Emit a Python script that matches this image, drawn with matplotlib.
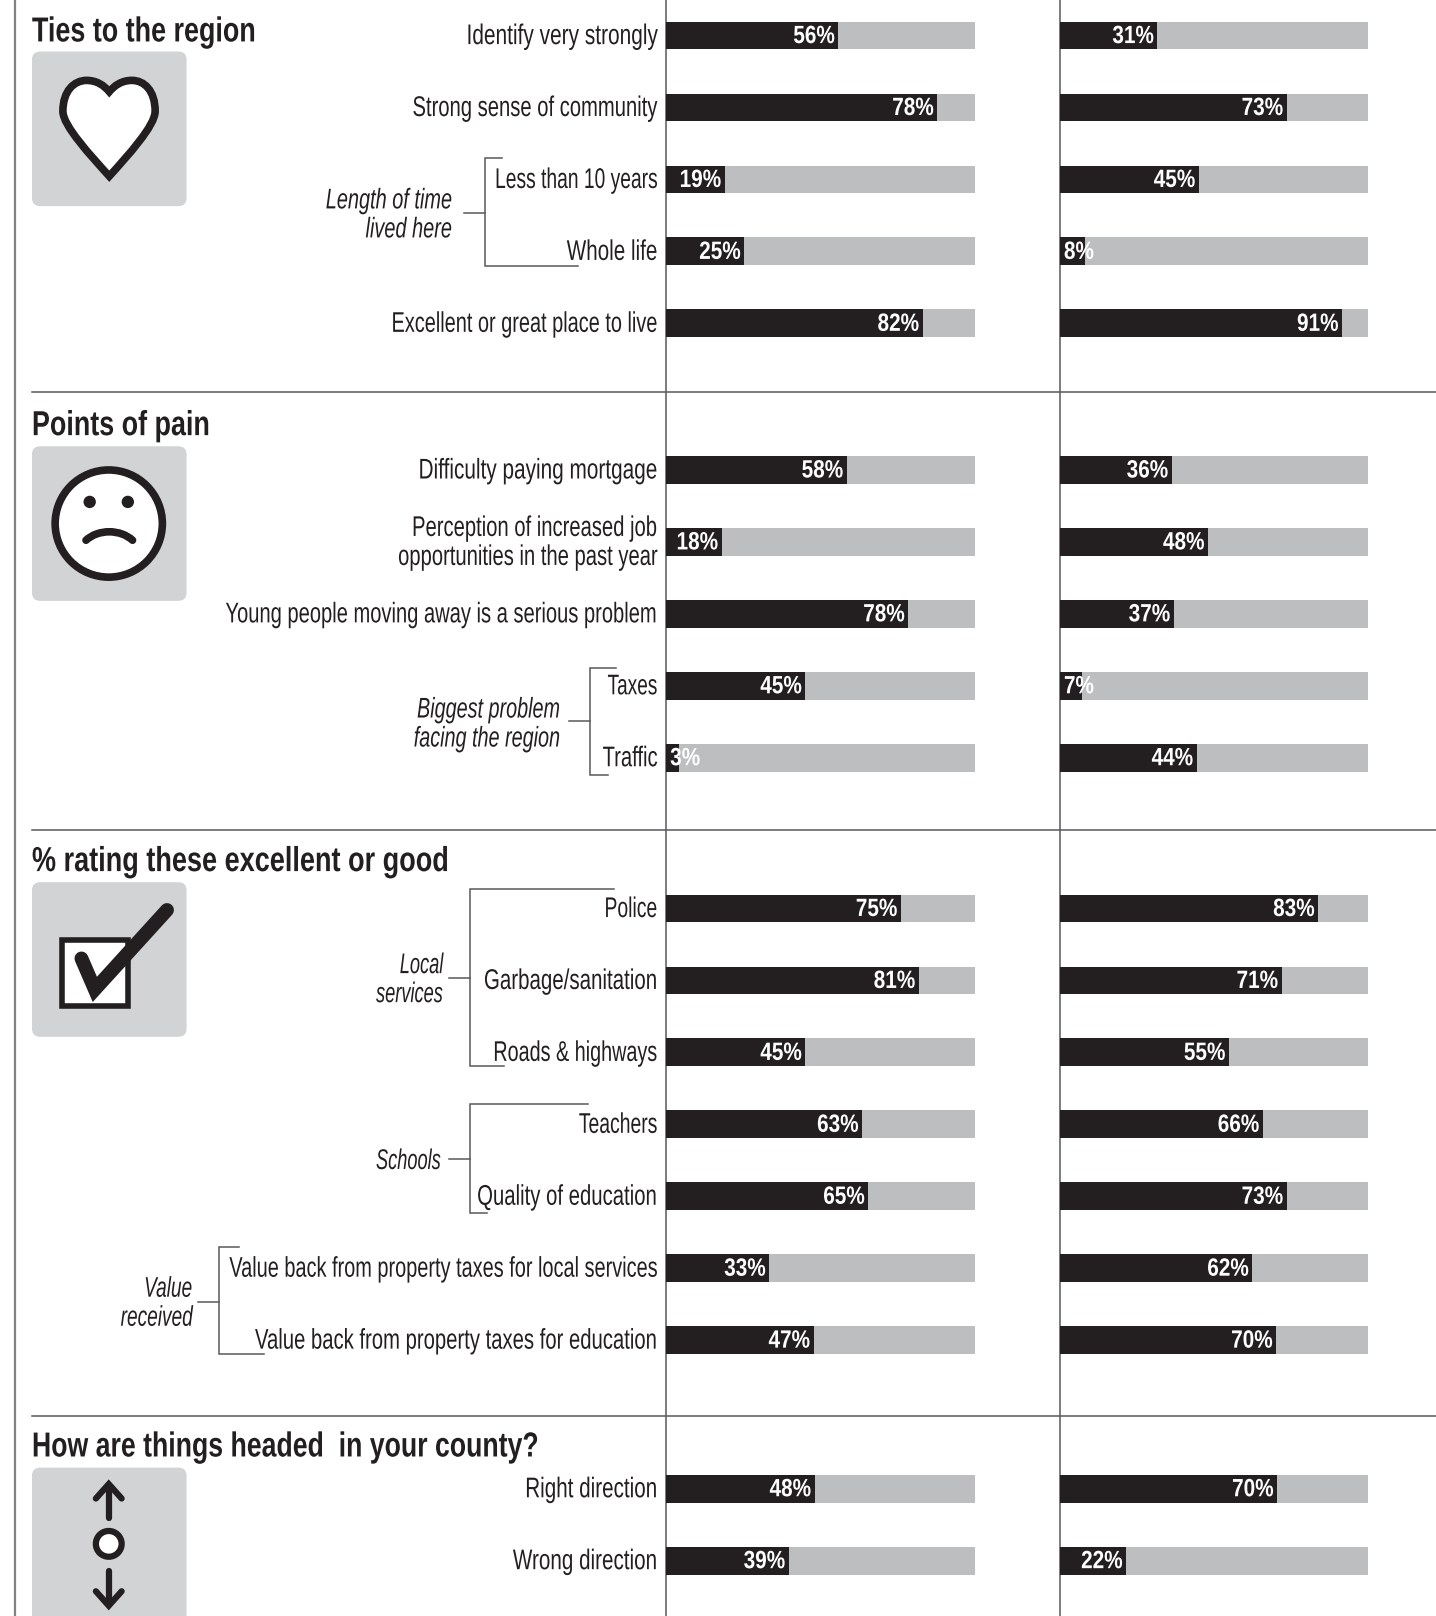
import matplotlib
matplotlib.use('Agg')
import matplotlib.pyplot as plt
from matplotlib.patches import FancyBboxPatch, PathPatch, Circle, Arc, Rectangle
from matplotlib.path import Path
from matplotlib.patheffects import AbstractPathEffect
from matplotlib.transforms import Affine2D

plt.rcParams['font.family'] = ['Liberation Sans', 'DejaVu Sans']

ties_labels = ['Identify very strongly', 'Strong sense of community', 'Less than 10 years', 'Whole life', 'Excellent or great place to live']
ties_left = [56, 78, 19, 25, 82]
ties_right = [31, 73, 45, 8, 91]
# bar lengths as drawn, they don't always agree with the printed number (78% row)
ties_left_bar = [55.7, 87.8, 18.9, 25.2, 83]
ties_right_bar = [31.6, 73.6, 45, 7.9, 91.6]

pain_labels = ['Difficulty paying mortgage', 'Perception of increased job\nopportunities in the past year', 'Young people moving away is a serious problem', 'Taxes', 'Traffic']
pain_left = [58, 18, 78, 45, 3]
pain_right = [36, 48, 37, 7, 44]
pain_left_bar = [58.4, 17.9, 78.4, 45, 4.1]
pain_right_bar = [36.2, 48, 36.9, 7, 44.3]

rating_labels = ['Police', 'Garbage/sanitation', 'Roads & highways', 'Teachers', 'Quality of education', 'Value back from property taxes for local services', 'Value back from property taxes for education']
rating_left = [75, 81, 45, 63, 65, 33, 47]
rating_right = [83, 71, 55, 66, 73, 62, 70]
rating_left_bar = [76, 81.8, 45, 63.4, 65.4, 33.3, 47.7]
rating_right_bar = [83.8, 72, 54.8, 65.8, 73.6, 62.4, 70.2]

county_labels = ['Right direction', 'Wrong direction']
county_left = [48, 39]
county_right = [70, 22]
county_left_bar = [48, 39.6]
county_right_bar = [70.5, 21.4]

titles = ['Ties to the region', 'Points of pain', '% rating these excellent or good', 'How are things headed  in your county?']

title_y = [31, 413, 836, 1404]
title_fit = [0.775, 0.775, 0.78, 0.768]
section_y = [34.5, 456, 881.5, 1444.5]
row_gap = 69.8
rule_y = [380.5, 805.5, 1373.5]
icon_y = [50, 433, 856, 1424]
label_fit = [[0.733, 0.71, 0.676, 0.725, 0.70],
             [0.73, 0.71, 0.707, 0.67, 0.71],
             [0.68, 0.72, 0.695, 0.68, 0.714, 0.70, 0.712],
             [0.725, 0.725]]

DARK = '#231f20'
GREY = '#bcbec0'
ICON = '#d1d3d4'
LINE = '#58595b'


# no condensed font installed, so squeeze the glyphs sideways when drawn
class Squeeze(AbstractPathEffect):
    def __init__(self, sx, right=False):
        super().__init__()
        self.sx = sx
        self.right = right

    def draw_path(self, renderer, gc, tpath, affine, rgbFace=None):
        x0 = 0
        if self.right and len(tpath.vertices):
            x0 = tpath.vertices[:, 0].max()
        t = Affine2D().translate(-x0, 0).scale(self.sx, 1).translate(x0, 0)
        renderer.draw_path(gc, tpath, t + affine, rgbFace)


W, H = 1393.0, 1568.0
fig = plt.figure(figsize=(14.36, 16.16), dpi=100, facecolor='white')
ov = fig.add_axes([0, 0, 1, 1], zorder=1)
ov.set_xlim(0, W)
ov.set_ylim(H, 0)
ov.axis('off')

col_l = fig.add_axes([646.5 / W, 0, 299.3 / W, 1], zorder=2)
col_r = fig.add_axes([1028.5 / W, 0, 298.5 / W, 1], zorder=2)
for a in (col_l, col_r):
    a.set_xlim(0, 100)
    a.set_ylim(H, 0)
    a.axis('off')
    a.patch.set_alpha(0)

sections = [(ties_labels, ties_left, ties_left_bar, ties_right, ties_right_bar),
            (pain_labels, pain_left, pain_left_bar, pain_right, pain_right_bar),
            (rating_labels, rating_left, rating_left_bar, rating_right, rating_right_bar),
            (county_labels, county_left, county_left_bar, county_right, county_right_bar)]

for s, (labels, vl, bl, vr, br) in enumerate(sections):
    for i, lab in enumerate(labels):
        y = section_y[s] + i * row_gap
        ov.text(638, y + 1.5, lab, ha='right', va='center', fontsize=20.5, color=DARK, linespacing=1.15,
                path_effects=[Squeeze(label_fit[s][i], True)])
        for a, v, b in ((col_l, vl[i], bl[i]), (col_r, vr[i], br[i])):
            a.barh(y, 100, height=27, color=GREY, linewidth=0)
            a.barh(y, b, height=27, color=DARK, linewidth=0)
            if v < 10:
                a.text(1.2, y + 0.5, '%d%%' % v, ha='left', va='center', color='white', fontsize=18,
                       fontweight='bold', path_effects=[Squeeze(0.83)])
            else:
                a.text(b - 1.1, y + 0.5, '%d%%' % v, ha='right', va='center', color='white', fontsize=18,
                       fontweight='bold', path_effects=[Squeeze(0.83, True)])

for t, y, f in zip(titles, title_y, title_fit):
    ov.text(31, y, t, ha='left', va='center', fontsize=25, fontweight='bold', color=DARK,
            path_effects=[Squeeze(f)])

# frame lines
ov.plot([15, 15], [0, H], color='#808285', lw=1.6, solid_capstyle='butt')
for y in rule_y:
    ov.plot([31, W], [y, y], color=LINE, lw=1.1)
for x in (646.5, 1028.5):
    ov.plot([x, x], [0, H], color=LINE, lw=1.1, zorder=5)

# brackets: x, top, bottom, top end, bottom end, stub y, stub start
brackets = [(470, 153, 258, 487, 561, 207, 450),
            (572, 648, 752, 598, 590, 700, 552),
            (456, 863, 1034, 596, 489, 949, 436),
            (456, 1071, 1177, 570, 472, 1125, 436),
            (212, 1210, 1314, 232, 256, 1263, 192)]
for x, top, bot, te, be, sy, sx in brackets:
    ov.plot([te, x, x, be], [top, top, bot, bot], color=LINE, lw=1.1, solid_joinstyle='miter')
    ov.plot([sx, x], [sy, sy], color=LINE, lw=1.1)

notes = [('Length of time\nlived here', 439, 208, 0.70), ('Biggest problem\nfacing the region', 544, 702, 0.695),
         ('Local\nservices', 430, 950, 0.64), ('Schools', 428, 1126, 0.64), ('Value\nreceived', 187, 1264, 0.67)]
for txt, x, y, f in notes:
    ov.text(x, y + 1.5, txt, ha='right', va='center', style='italic', fontsize=20.5, color=DARK, linespacing=1.15,
            path_effects=[Squeeze(f, True)])

# icon panels
for y in icon_y:
    ov.add_patch(FancyBboxPatch((37, y + 6), 138, 138, boxstyle='round,pad=6,rounding_size=8', fc=ICON, ec='none'))

# heart
hv = [(106, 171), (88, 151), (61, 122), (61, 108), (61, 88), (72, 78), (84, 78), (94, 78), (101, 83), (106, 89),
      (111, 83), (118, 78), (128, 78), (140, 78), (150.5, 88), (150.5, 108), (150.5, 122), (124, 151), (106, 171), (106, 171)]
hc = [Path.MOVETO] + [Path.CURVE4] * 18 + [Path.CLOSEPOLY]
ov.add_patch(PathPatch(Path(hv, hc), fc='white', ec=DARK, lw=5.5, joinstyle='miter'))

# sad face
ov.add_patch(Circle((105.5, 508), 52, fc='white', ec=DARK, lw=5.5))
for ex in (87, 124):
    ov.add_patch(Circle((ex, 487), 6, fc=DARK, ec='none'))
ov.add_patch(Arc((106, 540), 60, 48, theta1=215, theta2=325, ec=DARK, lw=5.5, capstyle='round'))

# check box
ov.add_patch(Rectangle((60.5, 912), 64, 64, fc='white', ec=DARK, lw=4, joinstyle='miter'))
ov.plot([79, 92, 162], [930, 960, 883], color=DARK, lw=10, solid_capstyle='round', solid_joinstyle='miter')

# arrows and ring
ov.plot([105.5, 105.5], [1443, 1473], color=DARK, lw=4.5, solid_capstyle='round')
ov.plot([93, 105.5, 118], [1454, 1440, 1454], color=DARK, lw=4.5, solid_capstyle='round', solid_joinstyle='miter')
ov.add_patch(Circle((105.5, 1498), 12.5, fc='white', ec=DARK, lw=4.5))
ov.plot([105.5, 105.5], [1524, 1556], color=DARK, lw=4.5, solid_capstyle='round')
ov.plot([93, 105.5, 118], [1544, 1558, 1544], color=DARK, lw=4.5, solid_capstyle='round', solid_joinstyle='miter')

fig.savefig('out.png', dpi=100, facecolor='white')
